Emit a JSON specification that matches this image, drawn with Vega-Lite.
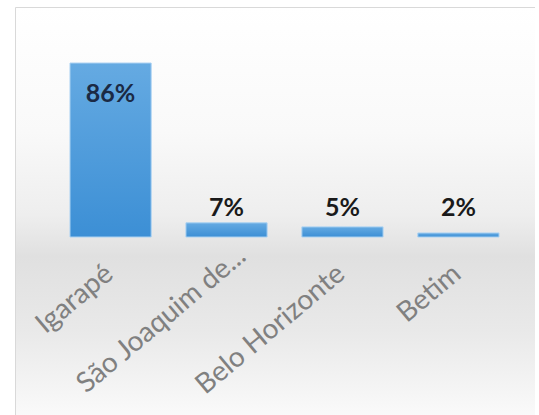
{
  "$schema": "https://vega.github.io/schema/vega-lite/v6.json",
  "autosize": "none",
  "padding": {"left": 15, "top": 7, "right": 0, "bottom": 0},
  "width": 520,
  "height": 415,
  "background": "#ffffff",
  "view": {
    "stroke": "#d9d9d9",
    "strokeWidth": 1,
    "fill": {
      "gradient": "linear",
      "x1": 0, "y1": 0, "x2": 0, "y2": 1,
      "stops": [
        {"offset": 0, "color": "#ffffff"},
        {"offset": 0.3, "color": "#f9f9f9"},
        {"offset": 0.5, "color": "#eeeeee"},
        {"offset": 0.6, "color": "#e0e0e0"},
        {"offset": 0.78, "color": "#e9e9e9"},
        {"offset": 1, "color": "#fbfbfb"}
      ]
    }
  },
  "data": {
    "values": [
      {"cidade": "Igarapé", "pct": 86, "label": "86%"},
      {"cidade": "São Joaquim de...", "pct": 7, "label": "7%"},
      {"cidade": "Belo Horizonte", "pct": 5, "label": "5%"},
      {"cidade": "Betim", "pct": 2, "label": "2%"}
    ]
  },
  "encoding": {
    "x": {
      "field": "cidade",
      "type": "nominal",
      "sort": null,
      "scale": {"range": [55, 484], "paddingInner": 0.3, "paddingOuter": 0},
      "axis": {
        "title": null,
        "orient": "bottom",
        "offset": -185,
        "domain": false,
        "ticks": false,
        "grid": false,
        "labelAngle": -40,
        "labelAlign": "right",
        "labelBaseline": "middle",
        "labelPadding": {"condition": {"test": "datum.value === 'São Joaquim de...'", "value": 15}, "value": 33},
        "labelOffset": {"condition": {"test": "datum.value === 'São Joaquim de...'", "value": 16}, "value": -1},
        "labelFont": "Lato",
        "labelFontSize": 28,
        "labelColor": "#808080",
        "labelLimit": 400
      }
    },
    "y": {
      "field": "pct",
      "type": "quantitative",
      "scale": {"domain": [-91.45, 113.7], "nice": false, "zero": false},
      "axis": null
    }
  },
  "layer": [
    {
      "mark": {
        "type": "bar",
        "stroke": "#a9d1f2",
        "strokeWidth": 1,
        "color": {
          "gradient": "linear",
          "x1": 0, "y1": 0, "x2": 0, "y2": 1,
          "stops": [
            {"offset": 0, "color": "#65aae2"},
            {"offset": 1, "color": "#3c8fd5"}
          ]
        }
      },
      "encoding": {"y2": {"datum": 0}}
    },
    {
      "transform": [{"filter": "datum.pct > 50"}],
      "mark": {"type": "text", "baseline": "alphabetic", "dy": 39, "font": "Lato", "fontWeight": "bold", "fontSize": 25, "color": "#1b2a45"},
      "encoding": {"text": {"field": "label"}}
    },
    {
      "transform": [{"filter": "datum.pct <= 50"}],
      "mark": {"type": "text", "baseline": "alphabetic", "dy": -1, "font": "Lato", "fontWeight": "bold", "fontSize": 25, "color": "#1a1a1a"},
      "encoding": {"text": {"field": "label"}, "y": {"datum": 10}}
    }
  ]
}
